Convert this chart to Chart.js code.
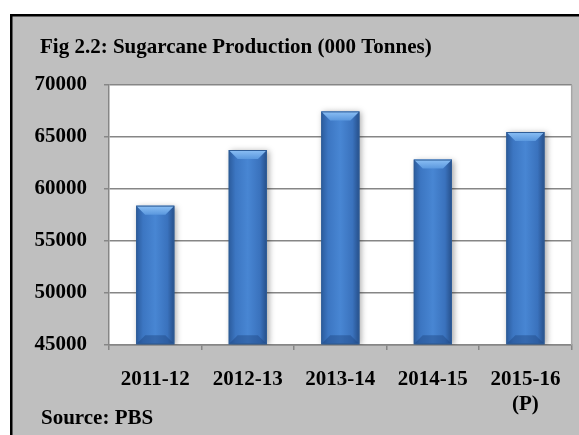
<!DOCTYPE html>
<html><head><meta charset="utf-8">
<script src="https://cdn.jsdelivr.net/npm/chart.js@4.4.1/dist/chart.umd.min.js"></script>
<style>html,body{margin:0;padding:0;background:#fff}#wrap{width:579px;height:435px}</style>
</head><body><div id="wrap"><canvas id="c" width="579" height="435"></canvas></div>
<script>
const categories = [['2011-12'], ['2012-13'], ['2013-14'], ['2014-15'], ['2015-16', '(P)']];
const production = [58400, 63750, 67460, 62830, 65480];
const yMin = 45000, yMax = 70000, yStep = 5000;
const titleText = 'Fig 2.2: Sugarcane Production (000 Tonnes)';
const sourceText = 'Source: PBS';

const FONT = "'Liberation Serif', 'Times New Roman', serif";
const BAR_PCT = 0.413;

const framePlugin = {
  id: 'frame',
  beforeDraw(chart) {
    const ctx = chart.ctx;
    ctx.save();
    ctx.fillStyle = '#ffffff';
    ctx.fillRect(0, 0, chart.width, chart.height);
    ctx.fillStyle = '#bfbfbf';
    ctx.fillRect(11, 15, chart.width, chart.height);
    ctx.strokeStyle = '#000000';
    ctx.lineWidth = 2.5;
    ctx.strokeRect(11.25, 15.25, chart.width + 20, chart.height + 20);
    const a = chart.chartArea;
    ctx.fillStyle = '#ffffff';
    ctx.fillRect(a.left, a.top, a.right - a.left, a.bottom - a.top);
    ctx.restore();
  },
  afterDraw(chart) {
    const ctx = chart.ctx, a = chart.chartArea;
    ctx.save();
    ctx.strokeStyle = '#a6a6a6';
    ctx.lineWidth = 1.5;
    ctx.beginPath();
    ctx.moveTo(a.right, a.top);
    ctx.lineTo(a.right, a.bottom);
    ctx.stroke();
    ctx.fillStyle = '#000';
    ctx.textAlign = 'left';
    ctx.textBaseline = 'alphabetic';
    ctx.font = 'bold 21px ' + FONT;
    ctx.fillText(titleText, 40, 53);
    ctx.fillText(sourceText, 41, 424);
    ctx.restore();
  }
};

const bevelPlugin = {
  id: 'bevel',
  beforeDatasetsDraw(chart) {
    const ctx = chart.ctx;
    ctx.save();
    ctx.shadowColor = 'rgba(0,0,0,0.35)';
    ctx.shadowBlur = 6;
    ctx.shadowOffsetX = 2;
    ctx.shadowOffsetY = 1;
  },
  afterDatasetsDraw(chart) {
    const ctx = chart.ctx;
    ctx.restore();
    ctx.save();
    const a = chart.chartArea;
    ctx.beginPath();
    ctx.rect(a.left, a.top, a.right - a.left, a.bottom - a.top);
    ctx.clip();
    const meta = chart.getDatasetMeta(0);
    meta.data.forEach(bar => {
      const w = bar.width, l = bar.x - w / 2, r = bar.x + w / 2, t = bar.y, b = bar.base;
      if (![w, l, r, t, b].every(Number.isFinite)) return;
      const d = 9;
      const g = ctx.createLinearGradient(0, t, 0, t + d);
      g.addColorStop(0, '#8cc0f5');
      g.addColorStop(1, '#5b98de');
      ctx.fillStyle = g;
      ctx.beginPath();
      ctx.moveTo(l, t); ctx.lineTo(r, t); ctx.lineTo(r - d, t + d); ctx.lineTo(l + d, t + d); ctx.closePath();
      ctx.fill();
      ctx.fillStyle = 'rgba(30,70,130,0.45)';
      ctx.beginPath();
      ctx.moveTo(l, b); ctx.lineTo(r, b); ctx.lineTo(r - d, b - d); ctx.lineTo(l + d, b - d); ctx.closePath();
      ctx.fill();
      ctx.strokeStyle = '#2f5d97';
      ctx.lineWidth = 1;
      ctx.strokeRect(l + 0.5, t + 0.5, w - 1, b - t - 1);
    });
    ctx.restore();
  }
};

function barGradient(context) {
  const chart = context.chart;
  const xs = chart.scales && chart.scales.x;
  if (!xs || !chart.chartArea || context.dataIndex === undefined) return '#3f78c4';
  const cx = xs.getPixelForValue(context.dataIndex);
  const w = (xs.width / categories.length) * BAR_PCT;
  const l = cx - w / 2, r = cx + w / 2;
  if (![l, r].every(Number.isFinite)) return '#3f78c4';
  const g = chart.ctx.createLinearGradient(l, 0, r, 0);
  g.addColorStop(0, '#2b5b9c');
  g.addColorStop(0.18, '#3c76c2');
  g.addColorStop(0.5, '#4886d3');
  g.addColorStop(0.82, '#3a72bd');
  g.addColorStop(1, '#264f89');
  return g;
}

new Chart(document.getElementById('c'), {
  type: 'bar',
  data: {
    labels: categories,
    datasets: [{
      data: production,
      base: yMin,
      backgroundColor: barGradient,
      borderWidth: 0,
      barPercentage: BAR_PCT,
      categoryPercentage: 1.0
    }]
  },
  options: {
    responsive: false,
    animation: false,
    devicePixelRatio: 1,
    layout: { padding: { left: 26, right: 6, top: 85, bottom: 0 } },
    plugins: {
      legend: { display: false },
      tooltip: { enabled: false },
      title: { display: false }
    },
    scales: {
      y: {
        min: yMin, max: yMax,
        afterFit(s) { s.width = 83; },
        ticks: {
          stepSize: yStep,
          color: '#000',
          padding: 17,
          callback: v => String(v),
          font: { family: FONT, size: 21, weight: 'bold' }
        },
        grid: { color: '#868686', lineWidth: 1.5, tickLength: 5, drawTicks: true },
        border: { color: '#868686', width: 1.5 }
      },
      x: {
        afterFit(s) { s.height = 90; },
        ticks: {
          color: '#000',
          padding: 18,
          maxRotation: 0,
          autoSkip: false,
          font: { family: FONT, size: 21, weight: 'bold', lineHeight: 1.15 }
        },
        grid: { display: true, drawOnChartArea: false, color: '#868686', lineWidth: 1.5, tickLength: 5, offset: true },
        border: { color: '#868686', width: 1.5 }
      }
    }
  },
  plugins: [framePlugin, bevelPlugin]
});
</script>
</body></html>
